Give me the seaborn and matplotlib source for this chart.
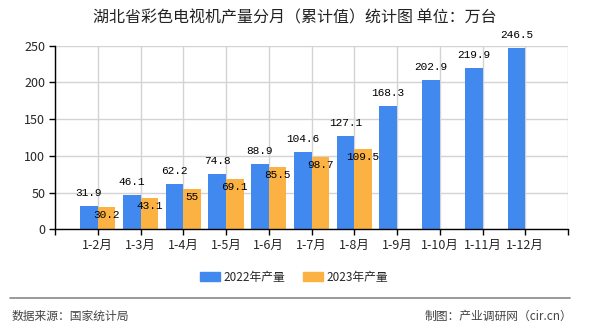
import numpy as np
import pandas as pd
import matplotlib
matplotlib.use("Agg")
import matplotlib.pyplot as plt
import seaborn as sns
from matplotlib.patches import Patch

categories = ['1-2月', '1-3月', '1-4月', '1-5月', '1-6月', '1-7月', '1-8月',
              '1-9月', '1-10月', '1-11月', '1-12月']
values_2022 = [31.9, 46.1, 62.2, 74.8, 88.9, 104.6, 127.1, 168.3, 202.9, 219.9, 246.5]
values_2023 = [30.2, 43.1, 55, 69.1, 85.5, 98.7, 109.5]
series_names = ['2022年产量', '2023年产量']
y_ticks = [0, 50, 100, 150, 200, 250]

sns.set_theme(style="white")
plt.rcParams['font.family'] = ['Noto Sans CJK SC', 'DejaVu Sans']

rows = []
for c, v in zip(categories, values_2022):
    rows.append({'cat': c, 'series': series_names[0], 'val': v})
for c, v in zip(categories, values_2023):
    rows.append({'cat': c, 'series': series_names[1], 'val': v})
df = pd.DataFrame(rows)

colors = {series_names[0]: '#4189EE', series_names[1]: '#FBB242'}

fig = plt.figure(figsize=(5.9, 3.3), dpi=100)
ax = fig.add_axes([55/590, 100.7/330, 513/590, 183.6/330])

sns.barplot(data=df, x='cat', y='val', hue='series', order=categories,
            hue_order=series_names, palette=colors, width=0.82,
            saturation=1, ax=ax, legend=False, errorbar=None,
            linewidth=0, edgecolor='none')

ax.set_xlim(-1, len(categories))
ax.set_ylim(0, 250)
ax.set_xticks(range(-1, len(categories) + 1))
ax.set_xticklabels([''] + categories + [''], fontsize=9)
ax.set_yticks(y_ticks)
ax.set_yticklabels([str(t) for t in y_ticks], fontsize=9)
ax.set_xlabel('')
ax.set_ylabel('')

ax.grid(True, color='#d3d3d3', linewidth=1)
ax.set_axisbelow(True)
for s in ['top', 'right']:
    ax.spines[s].set_visible(False)
for s in ['left', 'bottom']:
    ax.spines[s].set_color('black')
    ax.spines[s].set_linewidth(1)
ax.tick_params(axis='both', which='both', length=4, width=1, color='black',
               direction='out', bottom=True, left=True, pad=3)

label_font = ['Liberation Mono', 'DejaVu Sans Mono']
containers = ax.containers
for bar, v in zip(containers[0], values_2022):
    x = bar.get_x() + bar.get_width() / 2
    ax.annotate(f"{v:g}", (x, v), xytext=(0, 13), textcoords='offset pixels',
                ha='center', va='center', fontsize=8, color='black',
                family=label_font)
for bar, v in zip(containers[1], values_2023):
    x = bar.get_x() + bar.get_width() / 2
    ax.annotate(f"{v:g}", (x, v), xytext=(0, -8), textcoords='offset pixels',
                ha='center', va='center', fontsize=8, color='black',
                family=label_font)

fig.text(0.5, 1 - 18/330, '湖北省彩色电视机产量分月（累计值）统计图 单位：万台',
         ha='center', va='center', fontsize=11.5, color='#222222')

handles = [Patch(color=colors[n]) for n in series_names]
fig.legend(handles, series_names, loc='center', bbox_to_anchor=(294/590, 1 - 277/330),
           ncol=2, frameon=False, fontsize=8.5, handlelength=1.7, handleheight=0.8,
           handletextpad=0.3, columnspacing=1.5)

fig.add_artist(plt.Line2D([10/590, 570/590], [1 - 298/330, 1 - 298/330],
                          color='#888888', linewidth=1.2))
fig.text(12/590, 1 - 316.5/330, '数据来源：国家统计局', ha='left', va='center',
         fontsize=8.5, color='#444444')
fig.text(572/590, 1 - 316.5/330, '制图：产业调研网（cir.cn）', ha='right', va='center',
         fontsize=8.5, color='#444444')

fig.savefig('out.png', dpi=100)
